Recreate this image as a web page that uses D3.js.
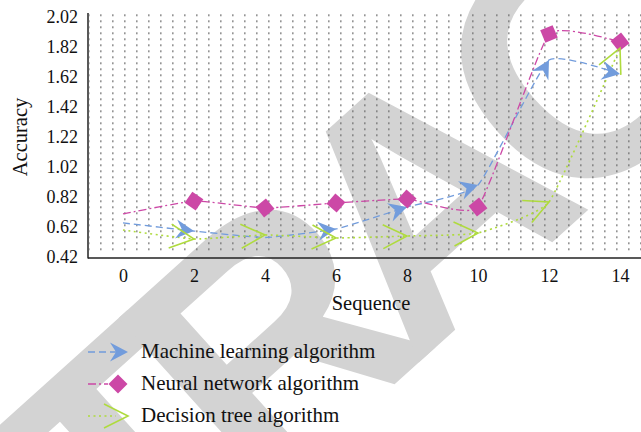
<!DOCTYPE html>
<html>
<head>
<meta charset="utf-8">
<script src="https://cdn.jsdelivr.net/npm/d3@7"></script>
<style>
  body { margin: 0; background: #fff; }
</style>
</head>
<body>
<div id="chart"></div>
<script>
// values
var sequence = [0, 2, 4, 6, 8, 10, 12, 14];
var machineLearning = [0.647, 0.593, 0.55, 0.607, 0.753, 0.90, 1.733, 1.64];
var neuralNetwork = [0.707, 0.793, 0.747, 0.78, 0.807, 0.753, 1.907, 1.853];
var decisionTree = [0.60, 0.54, 0.567, 0.547, 0.56, 0.58, 0.787, 1.813];
var yTicks = [0.42, 0.62, 0.82, 1.02, 1.22, 1.42, 1.62, 1.82, 2.02];
var seriesNames = ["Machine learning algorithm", "Neural network algorithm", "Decision tree algorithm"];
// points that carry no marker in the picture
var noMarker = [[0, 4], [0], [0]];

var w = 641, h = 432;
var serif = "'Liberation Serif', 'Times New Roman', serif";

var svg = d3.select("#chart").append("svg")
  .attr("width", w)
  .attr("height", h);

//watermark behind everything
svg.append("g")
  .attr("transform", "translate(408,208) rotate(-42)")
  .append("text")
  .attr("text-anchor", "middle")
  .attr("y", 122)
  .style("font-family", "'Liberation Sans', Arial, sans-serif")
  .style("font-weight", "bold")
  .style("font-size", "340px")
  .style("letter-spacing", "-38px")
  .style("fill", "#d3d3d3")
  .text("RETRACTED");

var xScale = d3.scaleLinear().domain([0, 14]).range([123, 620]);
var yScale = d3.scaleLinear().domain([0.42, 2.02]).range([257, 17]);

//dotted background
var defs = svg.append("defs");
defs.append("pattern")
  .attr("id", "dots")
  .attr("patternUnits", "userSpaceOnUse")
  .attr("x", 100).attr("y", 14.5)
  .attr("width", 12).attr("height", 6)
  .append("rect")
  .attr("width", 1.6).attr("height", 1.4)
  .attr("fill", "#666");

svg.append("rect")
  .attr("x", 89).attr("y", 13)
  .attr("width", w - 89).attr("height", 240)
  .attr("fill", "url(#dots)");

//axes
var xAxis = d3.axisBottom(xScale).tickValues(sequence).tickSize(0).tickPadding(11);
var yAxis = d3.axisLeft(yScale).tickValues(yTicks).tickSize(0).tickPadding(10)
  .tickFormat(d3.format(".2f"));

var gx = svg.append("g")
  .attr("transform", "translate(0,258)")
  .call(xAxis);
gx.select(".domain").remove();
gx.selectAll("text").style("font-family", serif).style("font-size", "18px").style("fill", "#111");

var gy = svg.append("g")
  .attr("transform", "translate(88,0)")
  .call(yAxis);
gy.select(".domain").remove();
gy.selectAll("text").style("font-family", serif).style("font-size", "18px").style("fill", "#111");

svg.append("line")
  .attr("x1", 88).attr("x2", 88).attr("y1", 13).attr("y2", 258.5)
  .attr("stroke", "#222").attr("stroke-width", 1.5);
svg.append("line")
  .attr("x1", 88).attr("x2", w).attr("y1", 258).attr("y2", 258)
  .attr("stroke", "#222").attr("stroke-width", 1.5);

svg.append("text")
  .attr("transform", "translate(27,137) rotate(-90)")
  .attr("text-anchor", "middle")
  .style("font-family", serif)
  .style("font-size", "20.5px")
  .style("fill", "#111")
  .text("Accuracy");

svg.append("text")
  .attr("x", 371).attr("y", 310)
  .attr("text-anchor", "middle")
  .style("font-family", serif)
  .style("font-size", "20.5px")
  .style("fill", "#111")
  .text("Sequence");

//series
var colors = ["#729cdc", "#cc48a6", "#afdb3e"];
var dashes = ["7,4", "8,3,2,3", "2,3.5"];
var widths = [1.3, 1.3, 1.6];
var allSeries = [machineLearning, neuralNetwork, decisionTree];

var arrowPath = "M0,0 L-18,-9.5 L-12,0 L-18,9.5 Z";
var diamondPath = "M9.5,0 L0,-9.5 L-9.5,0 L0,9.5 Z";
var chevronPath = "M-24,-12 L0,0 L-24,12";
var markerPaths = [arrowPath, diamondPath, chevronPath];

var line = d3.line()
  .x(function(d) { return xScale(d[0]); })
  .y(function(d) { return yScale(d[1]); })
  .curve(d3.curveCardinal.tension(0.6));

function drawMarker(g, k, x, y, angle) {
  var m = g.append("path")
    .attr("d", markerPaths[k])
    .attr("transform", "translate(" + x + "," + y + ") rotate(" + angle + ")");
  if (k == 2) {
    m.attr("fill", "none").attr("stroke", colors[k]).attr("stroke-width", 1.6);
  } else {
    m.attr("fill", colors[k]);
  }
}

allSeries.forEach(function(values, k) {
  var pts = sequence.map(function(s, i) { return [s, values[i]]; });
  svg.append("path")
    .datum(pts)
    .attr("d", line)
    .attr("fill", "none")
    .attr("stroke", colors[k])
    .attr("stroke-width", widths[k])
    .attr("stroke-dasharray", dashes[k]);
});

allSeries.forEach(function(values, k) {
  var g = svg.append("g");
  sequence.forEach(function(s, i) {
    if (noMarker[k].indexOf(s) >= 0) return;
    var x = xScale(s), y = yScale(values[i]);
    var px = xScale(sequence[i - 1]), py = yScale(values[i - 1]);
    var angle = Math.atan2(y - py, x - px) * 180 / Math.PI;
    drawMarker(g, k, x, y, angle);
  });
});

//legend
var legend = svg.append("g");
seriesNames.forEach(function(name, k) {
  var ly = 352 + k * 32;
  legend.append("line")
    .attr("x1", 88).attr("x2", k == 1 ? 108 : 116)
    .attr("y1", ly).attr("y2", ly)
    .attr("stroke", colors[k])
    .attr("stroke-width", widths[k])
    .attr("stroke-dasharray", dashes[k]);
  drawMarker(legend, k, k == 1 ? 118 : 128, ly, 0);
  legend.append("text")
    .attr("x", 141).attr("y", ly + 6)
    .style("font-family", serif)
    .style("font-size", "21px")
    .style("fill", "#111")
    .text(name);
});
</script>
</body>
</html>
